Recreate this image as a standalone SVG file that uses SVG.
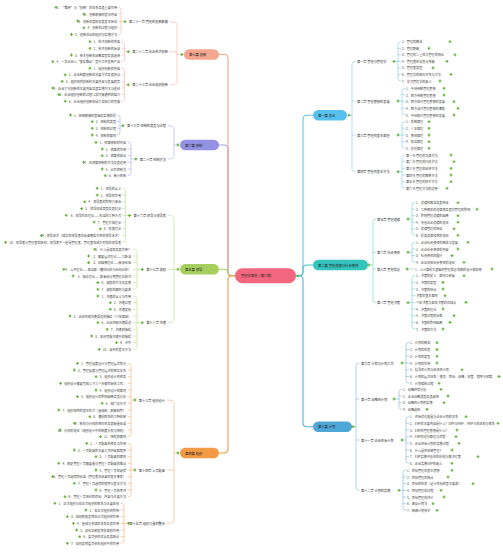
<svg xmlns="http://www.w3.org/2000/svg" xmlns:xlink="http://www.w3.org/1999/xlink" width="503" height="552" viewBox="0 0 503 552">
<defs>
<style>
.t{font-family:"Noto Sans CJK SC","Noto Sans",sans-serif;font-size:3.1px;fill:#444;dominant-baseline:central}
.c{font-size:3.2px;fill:#333}
.n{font-size:3.3px;fill:#222}
.e{text-anchor:end}
.k{fill:none;stroke-linecap:round}
.tr{stroke-width:1.1}
.br{stroke-width:0.7}
</style>
<path id="p" d="M-1.4 0H1.4M0-1.4V1.4" stroke="#5BB030" stroke-width="1.1" fill="none"/>
</defs>
<rect width="503" height="552" fill="#fff"/>

<g id="connectors">
<path class="k tr" stroke="#9D9BE6" d="M219,145H224Q228,145 228,149V271.8Q228,275.8 232,275.8H235"/>
<path class="k tr" stroke="#F2A68E" d="M219,54.5H224Q228,54.5 228,58.5V271.8Q228,275.8 232,275.8H235"/>
<path class="k tr" stroke="#A9D162" d="M219,269.3H224Q228,269.3 228,272.5Q228,275.8 232,275.8H235"/>
<path class="k tr" stroke="#F29B47" d="M219,453H224Q228,453 228,449V279.8Q228,275.8 232,275.8H235"/>
<path class="k tr" stroke="#69C3EC" d="M296,275.8H299Q303,275.8 303,271.8V119.2Q303,115.2 307,115.2H313"/>
<path class="k tr" stroke="#5AABDA" d="M296,275.8H299Q303,275.8 303,279.8V422.7Q303,426.7 307,426.7H313"/>
<path class="k tr" stroke="#45C6C0" d="M296,275.8H299Q303,275.8 303,271.8V269Q303,265 307,265H313"/>

<path class="k br" stroke="#8FD2F0" d="M349,115.2H352M355,61.5Q352,61.5 352,64V169.2Q352,171.7 355,171.7M352,101H355M352,135H355"/>
<path class="k br" stroke="#7FD8D3" d="M369,265H373M376,219Q373,219 373,221.5V300.2Q373,302.7 376,302.7M373,252.3H376M373,269H376"/>
<path class="k br" stroke="#8EC3E6" d="M353,426.7H356M359,363Q356,363 356,365.5V487.8Q356,490.3 359,490.3M356,399H359M356,440H359"/>

<path class="k br" stroke="#8FD2F0" d="M394,61.5H398M401,41.7Q398,41.7 398,44V78.7Q398,81 401,81M398,48.25H401M398,54.8H401M398,61.35H401M398,67.9H401M398,74.45H401"/>
<path class="k br" stroke="#8FD2F0" d="M398,101H402M405,88.3Q402,88.3 402,90.6V112.7Q402,115 405,115M402,95H405M402,101.7H405M402,108.3H405"/>
<path class="k br" stroke="#8FD2F0" d="M398,135H402M405,121.7Q402,121.7 402,124V146Q402,148.3 405,148.3M402,128.3H405M402,135H405M402,141.7H405"/>
<path class="k br" stroke="#8FD2F0" d="M398,171.7H402M405,155Q402,155 402,157.3V186Q402,188.3 405,188.3M402,161.7H405M402,168.3H405M402,175H405M402,181.7H405"/>
<path class="k br" stroke="#7FD8D3" d="M408,219H412M415,202.7Q412,202.7 412,205V233Q412,235.3 415,235.3M412,209.2H415M412,215.7H415M412,222.2H415M412,228.8H415"/>
<path class="k br" stroke="#7FD8D3" d="M408,252.3H412M415,242.3Q412,242.3 412,244.6V260Q412,262.3 415,262.3M412,249H415M412,255.6H415"/>
<path class="k br" stroke="#7FD8D3" d="M407,269H414"/>
<path class="k br" stroke="#7FD8D3" d="M408,302.7H412M415,275.7Q412,275.7 412,278V326.7Q412,329 415,329M412,282.4H415M412,289H415M412,295.7H415M412,302.4H415M412,309H415M412,315.7H415M412,322.4H415"/>
<path class="k br" stroke="#8EC3E6" d="M402,363H406M409,342.7Q406,342.7 406,345V381Q406,383.3 409,383.3M406,349.5H409M406,356.2H409M406,363H409M406,369.8H409M406,376.5H409"/>
<path class="k br" stroke="#8EC3E6" d="M394,399H399M402,389.3Q399,389.3 399,391.6V407.1Q399,409.4 402,409.4M399,396H402M399,402.7H402"/>
<path class="k br" stroke="#8EC3E6" d="M402,440H406M409,416.7Q406,416.7 406,419V461Q406,463.3 409,463.3M406,423.3H409M406,430H409M406,436.7H409M406,443.3H409M406,450H409M406,456.7H409"/>
<path class="k br" stroke="#8EC3E6" d="M399,490.3H403M406,470.3Q403,470.3 403,472.6V508Q403,510.3 406,510.3M403,477H406M403,483.7H406M403,490.3H406M403,497H406M403,503.7H406"/>

<path class="k br" stroke="#F7C0AE" d="M182,54.5H177M170,21.7Q177,21.7 177,24.5V82Q177,84.8 170,84.8M177,51.7H170"/>
<path class="k br" stroke="#B6B4F0" d="M178,145H174M168.5,125.7Q174,125.7 174,128.5V156.2Q174,159 168.5,159"/>
<path class="k br" stroke="#C6E29A" d="M178,269.3H174M168.5,215.5Q174,215.5 174,218.3V319.9Q174,322.7 168.5,322.7M174,269.5H168.5"/>
<path class="k br" stroke="#F6BC85" d="M178,453H174M167.5,400Q174,400 174,402.8V520.5Q174,523.3 167.5,523.3M174,470H167.5"/>

<path class="k br" stroke="#F7C0AE" d="M125,21.7H121M118.5,7.3Q121,7.3 121,9.6V32.2Q121,34.5 118.5,34.5M121,14.1H118.5M121,21H118.5M121,27.8H118.5"/>
<path class="k br" stroke="#F7C0AE" d="M128.3,51.7H124.5M121.5,41.7Q124.5,41.7 124.5,44V59.4Q124.5,61.7 121.5,61.7M124.5,48.3H121.5M124.5,55H121.5"/>
<path class="k br" stroke="#F7C0AE" d="M128.3,84.8H124.5M121.5,68.2Q124.5,68.2 124.5,70.5V98.9Q124.5,101.2 121.5,101.2M124.5,74.8H121.5M124.5,81.4H121.5M124.5,88H121.5M124.5,94.6H121.5"/>
<path class="k br" stroke="#B6B4F0" d="M123,125.7H120M117.5,115Q120,115 120,117.3V132.7Q120,135 117.5,135M120,121.7H117.5M120,128.3H117.5"/>
<path class="k br" stroke="#B6B4F0" d="M135.9,159H131M128,142.3Q131,142.3 131,144.6V173.4Q131,175.7 128,175.7M131,149H128M131,155.7H128M131,162.3H128M131,169H128"/>
<path class="k br" stroke="#C6E29A" d="M129.5,215.5H125.5M122.5,188.3Q125.5,188.3 125.5,190.6V240Q125.5,242.3 122.5,242.3M125.5,195.05H122.5M125.5,201.8H122.5M125.5,208.55H122.5M125.5,215.3H122.5M125.5,222.05H122.5M125.5,228.8H122.5M125.5,235.55H122.5"/>
<path class="k br" stroke="#C6E29A" d="M142.3,269.5H137M133,249.3Q137,249.3 137,251.6V287Q137,289.3 133,289.3M137,256H133M137,262.6H133M137,269.3H133M137,276H133M137,282.6H133"/>
<path class="k br" stroke="#C6E29A" d="M142.3,322.7H137M133,296Q137,296 137,298.3V347Q137,349.3 133,349.3M137,302.7H133M137,309.3H133M137,316H133M137,322.7H133M137,329.3H133M137,336H133M137,342.7H133"/>
<path class="k br" stroke="#F6BC85" d="M134.9,400H131M128,363.3Q131,363.3 131,365.6V434.4Q131,436.7 128,436.7M131,370H128M131,376.7H128M131,383.3H128M131,390H128M131,396.7H128M131,403.3H128M131,410H128M131,416.7H128M131,423.3H128M131,430H128"/>
<path class="k br" stroke="#F6BC85" d="M134.9,470H131M128,443.3Q131,443.3 131,445.6V494.4Q131,496.7 128,496.7M131,450H128M131,456.7H128M131,463.3H128M131,470H128M131,476.7H128M131,483.3H128M131,490H128"/>
<path class="k br" stroke="#F6BC85" d="M128.5,523.3H124M121,503.3Q124,503.3 124,505.6V541Q124,543.3 121,543.3M124,510H121M124,516.7H121M124,523.3H121M124,530H121M124,536.7H121"/>
</g>

<g id="center"><rect x="235" y="268.3" width="61" height="15" rx="7.5" fill="#F2677F"/><text class="t n" x="241" y="275.8">管理学原理（第六版）</text><use href="#p" x="298" y="275.8"/></g>

<g id="part1"><rect x="313" y="110" width="34" height="10.5" rx="5.25" fill="#56C1EE"/><text class="t n" x="318" y="115.2">第一篇 总论</text><use href="#p" x="349" y="115.2"/></g>
<g id="part2"><rect x="313" y="259.8" width="55" height="10.5" rx="5.25" fill="#33C4BE"/><text class="t n" x="318" y="265">第二篇 管理道德与社会责任</text><use href="#p" x="369" y="265"/></g>
<g id="part3"><rect x="313" y="421.5" width="39" height="10.5" rx="5.25" fill="#4FA7D8"/><text class="t n" x="318" y="426.7">第三篇 计划</text><use href="#p" x="353" y="426.7"/></g>
<g id="part7"><rect x="184" y="49.3" width="35" height="10.5" rx="5.25" fill="#F4A78E"/><text class="t n" x="189" y="54.5">第七篇 创新</text><use href="#p" x="182" y="54.5"/></g>
<g id="part6"><rect x="180" y="139.8" width="39" height="10.5" rx="5.25" fill="#9391E3"/><text class="t n" x="185" y="145">第六篇 控制</text><use href="#p" x="178" y="145"/></g>
<g id="part5"><rect x="180" y="264" width="39" height="10.5" rx="5.25" fill="#A7CF5E"/><text class="t n" x="185" y="269.3">第五篇 领导</text><use href="#p" x="178" y="269.3"/></g>
<g id="part4"><rect x="180" y="447.8" width="39" height="10.5" rx="5.25" fill="#F29A44"/><text class="t n" x="185" y="453">第四篇 组织</text><use href="#p" x="178" y="453"/></g>

<g id="ch1"><text class="t c" x="357" y="61.5">第一章 管理与管理学</text><use href="#p" x="394" y="61.5"/></g>
<g id="ch2"><text class="t c" x="357" y="101">第二章 管理思想的发展</text><use href="#p" x="398" y="101"/></g>
<g id="ch3"><text class="t c" x="357" y="135">第三章 管理的基本原理</text><use href="#p" x="398" y="135"/></g>
<g id="ch4"><text class="t c" x="357" y="171.7">第四章 管理的基本方法</text><use href="#p" x="398" y="171.7"/></g>
<g id="ch5"><text class="t c" x="377" y="219">第五章 管理道德</text><use href="#p" x="408" y="219"/></g>
<g id="ch6"><text class="t c" x="377" y="252.3">第六章 社会责任</text><use href="#p" x="408" y="252.3"/></g>
<g id="ch7"><text class="t c" x="377" y="269">第七章 管理信息</text><use href="#p" x="407" y="269"/></g>
<g id="ch8"><text class="t c" x="377" y="302.7">第八章 管理决策</text><use href="#p" x="408" y="302.7"/></g>
<g id="ch9"><text class="t c" x="361" y="363">第九章 计划与计划工作</text><use href="#p" x="402" y="363"/></g>
<g id="ch10"><text class="t c" x="361" y="399">第十章 战略性计划</text><use href="#p" x="394" y="399"/></g>
<g id="ch11"><text class="t c" x="361" y="440">第十一章 企业资源计划</text><use href="#p" x="402" y="440"/></g>
<g id="ch12"><text class="t c" x="361" y="490.3">第十二章 计划的实施</text><use href="#p" x="399" y="490.3"/></g>

<g id="ch21"><text class="t c e" x="168" y="21.7">第二十一章 管理的创新职能</text><use href="#p" x="125" y="21.7"/></g>
<g id="ch22"><text class="t c e" x="168" y="51.7">第二十二章 企业技术创新</text><use href="#p" x="128.3" y="51.7"/></g>
<g id="ch23"><text class="t c e" x="168" y="84.8">第二十三章 企业组织创新</text><use href="#p" x="128.3" y="84.8"/></g>
<g id="ch19"><text class="t c e" x="166" y="125.7">第十九章 控制的类型与过程</text><use href="#p" x="123" y="125.7"/></g>
<g id="ch20"><text class="t c e" x="166" y="159">第二十章 控制方法</text><use href="#p" x="135.9" y="159"/></g>
<g id="ch16"><text class="t c e" x="166" y="215.5">第十六章 领导与领导者</text><use href="#p" x="129.5" y="215.5"/></g>
<g id="ch17"><text class="t c e" x="166" y="269.5">第十七章 激励</text><use href="#p" x="142.3" y="269.5"/></g>
<g id="ch18"><text class="t c e" x="166" y="322.7">第十八章 沟通</text><use href="#p" x="142.3" y="322.7"/></g>
<g id="ch13"><text class="t c e" x="165" y="400">第十三章 组织设计</text><use href="#p" x="134.9" y="400"/></g>
<g id="ch14"><text class="t c e" x="165" y="470">第十四章 人员配备</text><use href="#p" x="134.9" y="470"/></g>
<g id="ch15"><text class="t c e" x="165" y="523.3">第十五章 组织力量的整合</text><use href="#p" x="128.5" y="523.3"/></g>

<g id="i1_1"><text class="t" x="402" y="41.7">1、管理的概念</text><use href="#p" x="450" y="41.7"/></g>
<g id="i1_2"><text class="t" x="402" y="48.25">2、管理职能</text><use href="#p" x="429" y="48.25"/></g>
<g id="i1_3"><text class="t" x="402" y="54.8">3、管理的二重性与管理的特征</text><use href="#p" x="455" y="54.8"/></g>
<g id="i1_4"><text class="t" x="402" y="61.35">4、管理者的角色与技能</text><use href="#p" x="447" y="61.35"/></g>
<g id="i1_5"><text class="t" x="402" y="67.9">5、管理者类型</text><use href="#p" x="433" y="67.9"/></g>
<g id="i1_6"><text class="t" x="402" y="74.45">6、管理学的研究对象与方法</text><use href="#p" x="451" y="74.45"/></g>
<g id="i1_7"><text class="t" x="402" y="81">7、学习管理学的意义</text><use href="#p" x="440" y="81"/></g>

<g id="i2_1"><text class="t" x="406" y="88.3">1、中国传统管理思想</text><use href="#p" x="444" y="88.3"/></g>
<g id="i2_2"><text class="t" x="406" y="95">2、西方传统管理思想</text><use href="#p" x="444" y="95"/></g>
<g id="i2_3"><text class="t" x="406" y="101.7">3、西方现代管理思想的发展</text><use href="#p" x="454" y="101.7"/></g>
<g id="i2_4"><text class="t" x="406" y="108.3">4、西方当代管理思想的演变</text><use href="#p" x="458" y="108.3"/></g>
<g id="i2_5"><text class="t" x="406" y="115">5、中国现代管理思想的发展</text><use href="#p" x="454" y="115"/></g>

<g id="i3_1"><text class="t" x="406" y="121.7">1、系统原理</text><use href="#p" x="429" y="121.7"/></g>
<g id="i3_2"><text class="t" x="406" y="128.3">2、人本原理</text><use href="#p" x="429" y="128.3"/></g>
<g id="i3_3"><text class="t" x="406" y="135">3、责任原理</text><use href="#p" x="429" y="135"/></g>
<g id="i3_4"><text class="t" x="406" y="141.7">4、效益原理</text><use href="#p" x="429" y="141.7"/></g>
<g id="i3_5"><text class="t" x="406" y="148.3">5、伦理原理</text><use href="#p" x="429" y="148.3"/></g>

<g id="i4_1"><text class="t" x="406" y="155">第一节 管理的法律方法</text><use href="#p" x="451" y="155"/></g>
<g id="i4_2"><text class="t" x="406" y="161.7">第二节 管理的行政方法</text><use href="#p" x="454" y="161.7"/></g>
<g id="i4_3"><text class="t" x="406" y="168.3">第三节 管理的经济方法</text><use href="#p" x="451" y="168.3"/></g>
<g id="i4_4"><text class="t" x="406" y="175">第四节 管理的教育方法</text><use href="#p" x="451" y="175"/></g>
<g id="i4_5"><text class="t" x="406" y="181.7">第五节 管理的技术方法</text><use href="#p" x="451" y="181.7"/></g>
<g id="i4_6"><text class="t" x="406" y="188.3">第六节 管理方法的运用</text><use href="#p" x="447" y="188.3"/></g>

<g id="i5_1"><text class="t" x="416" y="202.7">1、道德的概念及其特征</text><use href="#p" x="458" y="202.7"/></g>
<g id="i5_2"><text class="t" x="416" y="209.2">2、几种相关的道德观及其对管理的影响</text><use href="#p" x="477" y="209.2"/></g>
<g id="i5_3"><text class="t" x="416" y="215.7">3、影响管理道德的因素</text><use href="#p" x="458" y="215.7"/></g>
<g id="i5_4"><text class="t" x="416" y="222.2">4、改善企业道德的途径</text><use href="#p" x="458" y="222.2"/></g>
<g id="i5_5"><text class="t" x="416" y="228.8">5、道德管理的特征</text><use href="#p" x="454" y="228.8"/></g>
<g id="i5_6"><text class="t" x="416" y="235.3">6、提高道德修养的途径</text><use href="#p" x="458" y="235.3"/></g>

<g id="i6_1"><text class="t" x="416" y="242.3">1、企业社会责任的概念与发展</text><use href="#p" x="468" y="242.3"/></g>
<g id="i6_2"><text class="t" x="416" y="249">2、企业社会责任的内容</text><use href="#p" x="458" y="249"/></g>
<g id="i6_3"><text class="t" x="416" y="255.6">3、社会责任的履行</text><use href="#p" x="452" y="255.6"/></g>
<g id="i6_4"><text class="t" x="416" y="262.3">4、企业承担社会责任的途径</text><use href="#p" x="464" y="262.3"/></g>

<g id="i7_1"><text class="t" x="415" y="269">1、以计算机为基础的管理信息系统的设计和应用</text><use href="#p" x="492" y="269"/></g>

<g id="i8_1"><text class="t" x="416" y="275.7">1、决策的定义、原则与依据</text><use href="#p" x="464" y="275.7"/></g>
<g id="i8_2"><text class="t" x="416" y="282.4">2、决策的类型</text><use href="#p" x="443" y="282.4"/></g>
<g id="i8_3"><text class="t" x="416" y="289">3、决策的特点</text><use href="#p" x="443" y="289"/></g>
<g id="i8_4"><text class="t" x="416" y="295.7">决策的基本原则</text><use href="#p" x="445" y="295.7"/></g>
<g id="i8_5"><text class="t" x="416" y="302.4">个体决策与群体决策的优缺点</text><use href="#p" x="466" y="302.4"/></g>
<g id="i8_6"><text class="t" x="416" y="309">4、决策的理论</text><use href="#p" x="443" y="309"/></g>
<g id="i8_7"><text class="t" x="416" y="315.7">5、决策过程的步骤</text><use href="#p" x="454" y="315.7"/></g>
<g id="i8_8"><text class="t" x="416" y="322.4">6、决策的影响因素</text><use href="#p" x="450" y="322.4"/></g>
<g id="i8_9"><text class="t" x="416" y="329">7、决策的方法</text><use href="#p" x="443" y="329"/></g>

<g id="i9_1"><text class="t" x="410" y="342.7">1、计划的概念</text><use href="#p" x="437" y="342.7"/></g>
<g id="i9_2"><text class="t" x="410" y="349.5">2、计划的性质</text><use href="#p" x="437" y="349.5"/></g>
<g id="i9_3"><text class="t" x="410" y="356.2">3、计划的类型</text><use href="#p" x="437" y="356.2"/></g>
<g id="i9_4"><text class="t" x="410" y="363">4、计划的作用</text><use href="#p" x="437" y="363"/></g>
<g id="i9_5"><text class="t" x="410" y="369.8">5、指导性计划与具体性计划</text><use href="#p" x="462" y="369.8"/></g>
<g id="i9_6"><text class="t" x="410" y="376.5">6、计划的层次体系：使命、目标、战略、政策、程序与预算</text><use href="#p" x="499" y="376.5"/></g>
<g id="i9_7"><text class="t" x="410" y="383.3">7、计划编制过程</text><use href="#p" x="439" y="383.3"/></g>

<g id="i10_1"><text class="t" x="403" y="389.3">1、战略环境分析</text><use href="#p" x="441" y="389.3"/></g>
<g id="i10_2"><text class="t" x="403" y="396">2、企业战略类型及其选择</text><use href="#p" x="448" y="396"/></g>
<g id="i10_3"><text class="t" x="403" y="402.7">3、战略性计划的实施</text><use href="#p" x="444" y="402.7"/></g>
<g id="i10_4"><text class="t" x="403" y="409.4">4、战略选择</text><use href="#p" x="427" y="409.4"/></g>

<g id="i11_1"><text class="t" x="410" y="416.7">1、资源优化配置与企业计划的关系</text><use href="#p" x="466" y="416.7"/></g>
<g id="i11_2"><text class="t" x="410" y="423.3">2、ERP的主要内容是什么？ERP与MRP、MRPⅡ的区别与联系</text><use href="#p" x="498" y="423.3"/></g>
<g id="i11_3"><text class="t" x="410" y="430">3、ERP的管理思想是什么？</text><use href="#p" x="457" y="430"/></g>
<g id="i11_4"><text class="t" x="410" y="436.7">4、ERP的运行原理与流程</text><use href="#p" x="456" y="436.7"/></g>
<g id="i11_5"><text class="t" x="410" y="443.3">5、企业资源计划的实施过程</text><use href="#p" x="459" y="443.3"/></g>
<g id="i11_6"><text class="t" x="410" y="450">6、什么是供应链管理？</text><use href="#p" x="452" y="450"/></g>
<g id="i11_7"><text class="t" x="410" y="456.7">7、ERP实施中存在的问题与解决对策</text><use href="#p" x="478" y="456.7"/></g>
<g id="i11_8"><text class="t" x="410" y="463.3">8、企业实施ERP的意义</text><use href="#p" x="452" y="463.3"/></g>

<g id="i12_1"><text class="t" x="407" y="470.3">1、目标管理的基本思想</text><use href="#p" x="452" y="470.3"/></g>
<g id="i12_2"><text class="t" x="407" y="477">2、目标管理的特点</text><use href="#p" x="448" y="477"/></g>
<g id="i12_3"><text class="t" x="407" y="483.7">3、目标的性质（设计目标的基本要求）</text><use href="#p" x="473" y="483.7"/></g>
<g id="i12_4"><text class="t" x="407" y="490.3">4、目标管理的过程</text><use href="#p" x="441" y="490.3"/></g>
<g id="i12_5"><text class="t" x="407" y="497">5、目标管理的评价</text><use href="#p" x="444" y="497"/></g>
<g id="i12_6"><text class="t" x="407" y="503.7">6、滚动计划法</text><use href="#p" x="433" y="503.7"/></g>
<g id="i12_7"><text class="t" x="407" y="510.3">7、网络计划技术</text><use href="#p" x="437" y="510.3"/></g>

<g id="i21_1"><text class="t e" x="117" y="7.3">1、“维持”与“创新”的关系及其重要作用</text><use href="#p" x="56" y="7.3"/></g>
<g id="i21_2"><text class="t e" x="117" y="14.1">2、创新职能的基本内容</text><use href="#p" x="83.9" y="14.1"/></g>
<g id="i21_3"><text class="t e" x="117" y="21">3、创新的类别及其基本特征</text><use href="#p" x="77.7" y="21"/></g>
<g id="i21_4"><text class="t e" x="117" y="27.8">4、创新的过程与组织</text><use href="#p" x="83.9" y="27.8"/></g>
<g id="i21_5"><text class="t e" x="117" y="34.5">5、创新活动的组织与实施方法</text><use href="#p" x="71.5" y="34.5"/></g>

<g id="i22_1"><text class="t e" x="120" y="41.7">1、技术创新的内容</text><use href="#p" x="90" y="41.7"/></g>
<g id="i22_2"><text class="t e" x="120" y="48.3">2、技术创新的源泉</text><use href="#p" x="90" y="48.3"/></g>
<g id="i22_3"><text class="t e" x="120" y="55">3、技术创新的战略类型及其选择</text><use href="#p" x="71.4" y="55"/></g>
<g id="i22_4"><text class="t e" x="120" y="61.7">4、一流企业以“变革推动”型方式开发新产品</text><use href="#p" x="52.8" y="61.7"/></g>

<g id="i23_1"><text class="t e" x="120" y="68.2">1、组织创新的内容</text><use href="#p" x="90" y="68.2"/></g>
<g id="i23_2"><text class="t e" x="120" y="74.8">2、企业制度创新的主要方式及其特点</text><use href="#p" x="65.2" y="74.8"/></g>
<g id="i23_3"><text class="t e" x="120" y="81.4">3、组织结构创新的主要内容与发展趋势</text><use href="#p" x="62.1" y="81.4"/></g>
<g id="i23_4"><text class="t e" x="120" y="88">4、企业文化创新的主要内容及其实施方法与途径</text><use href="#p" x="52.8" y="88"/></g>
<g id="i23_5"><text class="t e" x="120" y="94.6">5、企业组织创新的过程以及可能遇到的阻力</text><use href="#p" x="59" y="94.6"/></g>
<g id="i23_6"><text class="t e" x="120" y="101.2">6、企业组织创新的动力及阻力的克服</text><use href="#p" x="65.2" y="101.2"/></g>

<g id="i19_1"><text class="t e" x="116" y="115">1、控制职能的基础及实施前提</text><use href="#p" x="70.5" y="115"/></g>
<g id="i19_2"><text class="t e" x="116" y="121.7">2、控制的类型</text><use href="#p" x="92.2" y="121.7"/></g>
<g id="i19_3"><text class="t e" x="116" y="128.3">3、控制的过程</text><use href="#p" x="92.2" y="128.3"/></g>
<g id="i19_4"><text class="t e" x="116" y="135">4、控制的原则</text><use href="#p" x="92.2" y="135"/></g>

<g id="i20_1"><text class="t e" x="126" y="142.3">1、预算控制的内容</text><use href="#p" x="96" y="142.3"/></g>
<g id="i20_2"><text class="t e" x="126" y="149">2、预算的作用</text><use href="#p" x="102.2" y="149"/></g>
<g id="i20_3"><text class="t e" x="126" y="155.7">3、预算的缺点</text><use href="#p" x="102.2" y="155.7"/></g>
<g id="i20_4"><text class="t e" x="126" y="162.3">4、非预算控制的方法及其运用</text><use href="#p" x="83.6" y="162.3"/></g>
<g id="i20_5"><text class="t e" x="126" y="169">5、比率控制法</text><use href="#p" x="102.2" y="169"/></g>
<g id="i20_6"><text class="t e" x="126" y="175.7">6、审计控制</text><use href="#p" x="105.3" y="175.7"/></g>

<g id="i16_1"><text class="t e" x="121" y="188.3">1、领导的含义</text><use href="#p" x="97.2" y="188.3"/></g>
<g id="i16_2"><text class="t e" x="121" y="195.05">2、领导的作用</text><use href="#p" x="97.2" y="195.05"/></g>
<g id="i16_3"><text class="t e" x="121" y="201.8">4、领导者的影响力来源</text><use href="#p" x="84.8" y="201.8"/></g>
<g id="i16_4"><text class="t e" x="121" y="208.55">5、领导风格类型及其理论</text><use href="#p" x="81.7" y="208.55"/></g>
<g id="i16_5"><text class="t e" x="121" y="215.3">6、领导作风理论——勒温的三种方式</text><use href="#p" x="66.2" y="215.3"/></g>
<g id="i16_6"><text class="t e" x="121" y="222.05">7、管理方格理论</text><use href="#p" x="94.1" y="222.05"/></g>
<g id="i16_7"><text class="t e" x="121" y="228.8">8、权变理论</text><use href="#p" x="100.3" y="228.8"/></g>
<g id="i16_8"><text class="t e" x="121" y="235.55">9、领导艺术（成功的领导者应具备哪些方面的领导艺术）</text><use href="#p" x="41.4" y="235.55"/></g>
<g id="i16_9"><text class="t e" x="121" y="242.3">10、领导者与管理者的区别：领导者不一定是管理者，管理者应成为有效的领导者</text><use href="#p" x="5.6" y="242.3"/></g>

<g id="i17_1"><text class="t e" x="131" y="249.3">1、什么是激励及其作用？</text><use href="#p" x="94.8" y="249.3"/></g>
<g id="i17_2"><text class="t e" x="131" y="256">2、需要层次理论——马斯洛</text><use href="#p" x="88.6" y="256"/></g>
<g id="i17_3"><text class="t e" x="131" y="262.6">3、双因素理论——赫茨伯格</text><use href="#p" x="88.6" y="262.6"/></g>
<g id="i17_4"><text class="t e" x="131" y="269.3">4、公平理论——亚当斯（横向比较与纵向比较）</text><use href="#p" x="63.8" y="269.3"/></g>
<g id="i17_5"><text class="t e" x="131" y="276">5、强化理论——斯金纳与期望理论模式</text><use href="#p" x="73.1" y="276"/></g>
<g id="i17_6"><text class="t e" x="131" y="282.6">6、激励的方法及实施</text><use href="#p" x="97.9" y="282.6"/></g>
<g id="i17_7"><text class="t e" x="131" y="289.3">7、激励的原则与要求</text><use href="#p" x="97.9" y="289.3"/></g>

<g id="i18_1"><text class="t e" x="131" y="296">1、沟通的含义与作用</text><use href="#p" x="97.9" y="296"/></g>
<g id="i18_2"><text class="t e" x="131" y="302.7">2、沟通过程</text><use href="#p" x="110.3" y="302.7"/></g>
<g id="i18_3"><text class="t e" x="131" y="309.3">3、沟通类别</text><use href="#p" x="110.3" y="309.3"/></g>
<g id="i18_4"><text class="t e" x="131" y="316">5、企业内部沟通渠道的障碍（个体原因）</text><use href="#p" x="70" y="316"/></g>
<g id="i18_5"><text class="t e" x="131" y="322.7">6、企业内部沟通渠道</text><use href="#p" x="97.9" y="322.7"/></g>
<g id="i18_6"><text class="t e" x="131" y="329.3">7、沟通的障碍</text><use href="#p" x="107.2" y="329.3"/></g>
<g id="i18_7"><text class="t e" x="131" y="336">8、如何克服沟通中的障碍</text><use href="#p" x="91.7" y="336"/></g>
<g id="i18_8"><text class="t e" x="131" y="342.7">9、冲突</text><use href="#p" x="116.5" y="342.7"/></g>
<g id="i18_9"><text class="t e" x="131" y="349.3">10、谈判的基本方法</text><use href="#p" x="99.3" y="349.3"/></g>

<g id="i13_1"><text class="t e" x="126" y="363.3">1、管理幅度设计与管理层次划分</text><use href="#p" x="77.4" y="363.3"/></g>
<g id="i13_2"><text class="t e" x="126" y="370">2、管理幅度与管理层次的相互关系</text><use href="#p" x="74.3" y="370"/></g>
<g id="i13_3"><text class="t e" x="126" y="376.7">3、组织设计的任务</text><use href="#p" x="96" y="376.7"/></g>
<g id="i13_4"><text class="t e" x="126" y="383.3">组织设计需要完成以下三个步骤的具体工作：</text><use href="#p" x="60.5" y="383.3"/></g>
<g id="i13_5"><text class="t e" x="126" y="390">4、组织设计的原则</text><use href="#p" x="96" y="390"/></g>
<g id="i13_6"><text class="t e" x="126" y="396.7">5、组织设计的影响因素及其分析</text><use href="#p" x="77.4" y="396.7"/></g>
<g id="i13_7"><text class="t e" x="126" y="403.3">6、部门化方式</text><use href="#p" x="102.2" y="403.3"/></g>
<g id="i13_8"><text class="t e" x="126" y="410">7、组织结构的基本形式（直线制、职能制等）</text><use href="#p" x="58.8" y="410"/></g>
<g id="i13_9"><text class="t e" x="126" y="416.7">8、横向联系的几种机制</text><use href="#p" x="89.8" y="416.7"/></g>
<g id="i13_10"><text class="t e" x="126" y="423.3">9、集权与分权的相对性及其衡量标准</text><use href="#p" x="74.3" y="423.3"/></g>
<g id="i13_11"><text class="t e" x="126" y="430">10、分权的途径（组织设计中的制度分权与授权）</text><use href="#p" x="60.2" y="430"/></g>
<g id="i13_12"><text class="t e" x="126" y="436.7">11、授权的原则</text><use href="#p" x="100.5" y="436.7"/></g>

<g id="i14_1"><text class="t e" x="126" y="443.3">1、人员配备的任务与作用</text><use href="#p" x="86.7" y="443.3"/></g>
<g id="i14_2"><text class="t e" x="126" y="450">2、人员配备的主要工作内容和程序</text><use href="#p" x="74.3" y="450"/></g>
<g id="i14_3"><text class="t e" x="126" y="456.7">3、人员配备的原则</text><use href="#p" x="96" y="456.7"/></g>
<g id="i14_4"><text class="t e" x="126" y="463.3">4、确定管理人员需要量与管理人员配备的难点</text><use href="#p" x="58.8" y="463.3"/></g>
<g id="i14_5"><text class="t e" x="126" y="470">5、管理人员的选聘</text><use href="#p" x="96" y="470"/></g>
<g id="i14_6"><text class="t e" x="126" y="476.7">6、管理人员选聘的标准（管理者应具备的基本素质）</text><use href="#p" x="52.6" y="476.7"/></g>
<g id="i14_7"><text class="t e" x="126" y="483.3">7、管理人员选聘的程序与基本方法</text><use href="#p" x="74.3" y="483.3"/></g>
<g id="i14_8"><text class="t e" x="126" y="490">8、管理人员的考评</text><use href="#p" x="96" y="490"/></g>
<g id="i14_9"><text class="t e" x="126" y="496.7">9、管理人员培训的目标、内容与主要方法</text><use href="#p" x="65" y="496.7"/></g>

<g id="i15_1"><text class="t e" x="119" y="503.3">1、正式组织与非正式组织的联系与主要区别</text><use href="#p" x="54.9" y="503.3"/></g>
<g id="i15_2"><text class="t e" x="119" y="510">2、非正式组织的影响</text><use href="#p" x="85.9" y="510"/></g>
<g id="i15_3"><text class="t e" x="119" y="516.7">3、如何积极发挥非正式组织的作用</text><use href="#p" x="67.3" y="516.7"/></g>
<g id="i15_4"><text class="t e" x="119" y="523.3">4、直线与参谋的关系及其作用</text><use href="#p" x="73.5" y="523.3"/></g>
<g id="i15_5"><text class="t e" x="119" y="530">5、如何正确发挥参谋的作用</text><use href="#p" x="76.6" y="530"/></g>
<g id="i15_6"><text class="t e" x="119" y="536.7">6、委员会的优点及其缺点</text><use href="#p" x="79.7" y="536.7"/></g>
<g id="i15_7"><text class="t e" x="119" y="543.3">7、如何发挥委员会在组织中的作用</text><use href="#p" x="67.3" y="543.3"/></g>
</svg>
